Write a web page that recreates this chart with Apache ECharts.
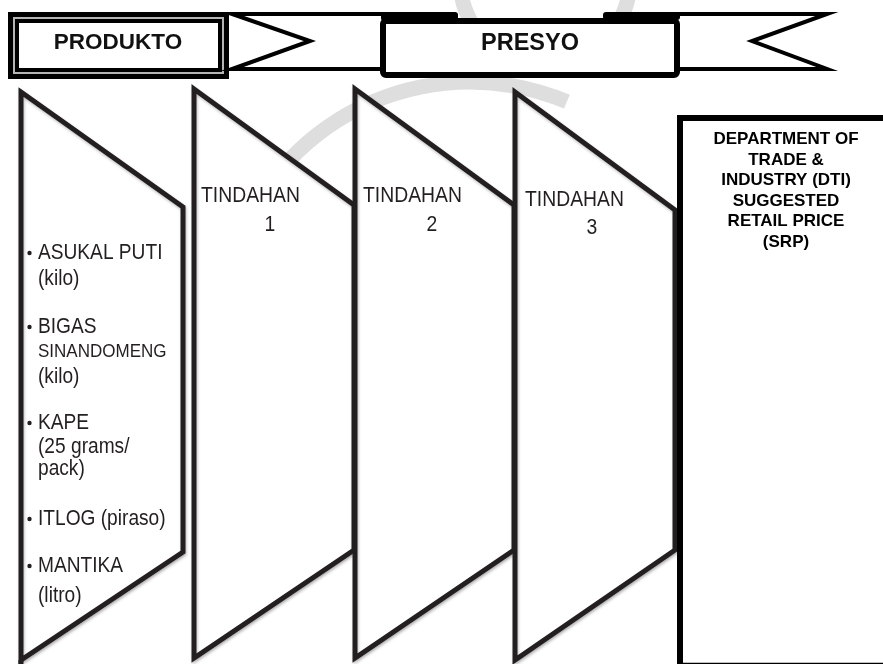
<!DOCTYPE html>
<html>
<head>
<meta charset="utf-8">
<script src="https://cdn.jsdelivr.net/npm/echarts@6/dist/echarts.min.js"></script>
<style>
html,body{margin:0;padding:0;background:#fff;}
#chart{width:883px;height:664px;}
</style>
</head>
<body>
<div id="chart"></div>
<script>
// ---- content ----
var headerLeft = 'PRODUKTO';
var headerCenter = 'PRESYO';
var storeNames = ['TINDAHAN', 'TINDAHAN', 'TINDAHAN'];
var storeNumbers = ['1', '2', '3'];
// product list: [text, bullet?, small?]
var productLines = [
  ['ASUKAL PUTI', true, false],
  ['(kilo)', false, false],
  ['BIGAS', true, false],
  ['SINANDOMENG', false, true],
  ['(kilo)', false, false],
  ['KAPE', true, false],
  ['(25 grams/', false, false],
  ['pack)', false, false],
  ['ITLOG (piraso)', true, false],
  ['MANTIKA', true, false],
  ['(litro)', false, false]
];
var srpLines = ['DEPARTMENT OF', 'TRADE &', 'INDUSTRY (DTI)', 'SUGGESTED', 'RETAIL PRICE', '(SRP)'];

// ---- layout ----
var INK = '#231f20';
var WM = '#dedede';
var FONT = '"Liberation Sans", Arial, sans-serif';
var productY = [253, 279, 327, 352, 377, 423, 447, 469, 519, 566, 596];
var colLeft = [21, 194, 355, 515];
var colRight = [183, 354, 514, 675];
var colTopL = [92, 89, 89, 92];
var colTopR = [207, 205, 205, 210];
var colBotR = [552, 550, 550, 550];
var colBotL = [660, 658, 658, 660];
var storeTextX = [201, 363, 525];
var storeNumX = [270, 432, 592];
var storeTextY = [195.5, 195.5, 199.5];
var storeNumY = [225, 225, 228];
var D = Math.PI / 180;

var els = [];

// faint watermark (behind everything)
els.push({type:'circle', z:-10, shape:{cx:545, cy:-20, r:85}, style:{fill:null, stroke:WM, lineWidth:15}});
els.push({type:'arc', z:-10, shape:{cx:470, cy:330, r:248, startAngle:-170 * D, endAngle:-67 * D, clockwise:true}, style:{fill:null, stroke:WM, lineWidth:15}});

// header: PRODUKTO framed box
els.push({type:'rect', shape:{x:8,y:12,width:221,height:67}, style:{fill:'#000'}});
els.push({type:'rect', shape:{x:13,y:17,width:211,height:57}, style:{fill:'#b5b5b5'}});
els.push({type:'rect', shape:{x:15,y:19,width:207,height:53}, style:{fill:'#000'}});
els.push({type:'rect', shape:{x:19,y:23,width:199,height:45}, style:{fill:'#fff'}});
els.push({type:'text', x:118, y:43, style:{text:headerLeft, font:'bold 22.5px ' + FONT, fill:'#111', textAlign:'center', textVerticalAlign:'middle'}});

// ribbon
els.push({type:'polygon', shape:{points:[[232,14],[420,14],[420,69],[232,69],[310,41]]}, style:{fill:'#fff', stroke:'#000', lineWidth:4, lineJoin:'miter'}});
els.push({type:'polygon', shape:{points:[[640,14],[827,14],[752,41],[827,69],[640,69]]}, style:{fill:'#fff', stroke:'#000', lineWidth:4, lineJoin:'miter'}});
els.push({type:'rect', shape:{x:381,y:12,width:77,height:9,r:3}, style:{fill:'#000'}});
els.push({type:'rect', shape:{x:603,y:12,width:77,height:8,r:3}, style:{fill:'#000'}});
els.push({type:'rect', shape:{x:383,y:21,width:294,height:54,r:3}, style:{fill:'#fff', stroke:'#000', lineWidth:6}});
els.push({type:'text', x:530, y:44, style:{text:headerCenter, font:'bold 23.5px ' + FONT, fill:'#111', textAlign:'center', textVerticalAlign:'middle'}});

// SRP box (white, behind columns)
els.push({type:'rect', shape:{x:680,y:118,width:210,height:550}, style:{fill:'#fff'}});
// columns
for (var c = 0; c < 4; c++) {
  els.push({type:'polygon', shape:{points:[
    [colLeft[c], colTopL[c]], [colRight[c], colTopR[c]],
    [colRight[c], colBotR[c]], [colLeft[c], colBotL[c]]]},
    style:{fill:'#fff', stroke:INK, lineWidth:5, lineJoin:'miter', shadowBlur:3, shadowColor:'rgba(0,0,0,0.25)', shadowOffsetX:1, shadowOffsetY:2}});
}
els.push({type:'line', shape:{x1:colLeft[0], y1:colBotL[0], x2:colLeft[0], y2:664}, style:{stroke:INK, lineWidth:5}});

// SRP box outline
els.push({type:'polyline', shape:{points:[[680,664],[680,118],[890,118]]}, style:{stroke:'#000', lineWidth:6, lineJoin:'miter', fill:null}});
els.push({type:'line', shape:{x1:680, y1:663.5, x2:883, y2:663.5}, style:{stroke:'#000', lineWidth:1.5}});

// product list text
for (var i = 0; i < productLines.length; i++) {
  var p = productLines[i];
  var small = p[2];
  els.push({type:'text', x:38, y:productY[i], scaleX: small ? 0.92 : 0.87,
    style:{text:p[0], font:(small ? '18.5px ' : '22px ') + FONT, fill:INK, textAlign:'left', textVerticalAlign:'middle'}});
  if (p[1]) {
    els.push({type:'circle', shape:{cx:29.5, cy:productY[i], r:2.2}, style:{fill:INK}});
  }
}

// store labels
for (var s = 0; s < storeNames.length; s++) {
  els.push({type:'text', x:storeTextX[s], y:storeTextY[s], scaleX:0.88,
    style:{text:storeNames[s], font:'22px ' + FONT, fill:INK, textAlign:'left', textVerticalAlign:'middle'}});
  els.push({type:'text', x:storeNumX[s], y:storeNumY[s], scaleX:0.88,
    style:{text:storeNumbers[s], font:'22px ' + FONT, fill:INK, textAlign:'center', textVerticalAlign:'middle'}});
}

// SRP text
for (var k = 0; k < srpLines.length; k++) {
  els.push({type:'text', x:786, y:139.5 + k * 20.5,
    style:{text:srpLines[k], font:'bold 17px ' + FONT, fill:'#000', textAlign:'center', textVerticalAlign:'middle'}});
}

var chart = echarts.init(document.getElementById('chart'), null, {renderer:'canvas'});
chart.setOption({
  backgroundColor:'#ffffff',
  animation:false,
  graphic:{elements:els}
});
</script>
</body>
</html>
